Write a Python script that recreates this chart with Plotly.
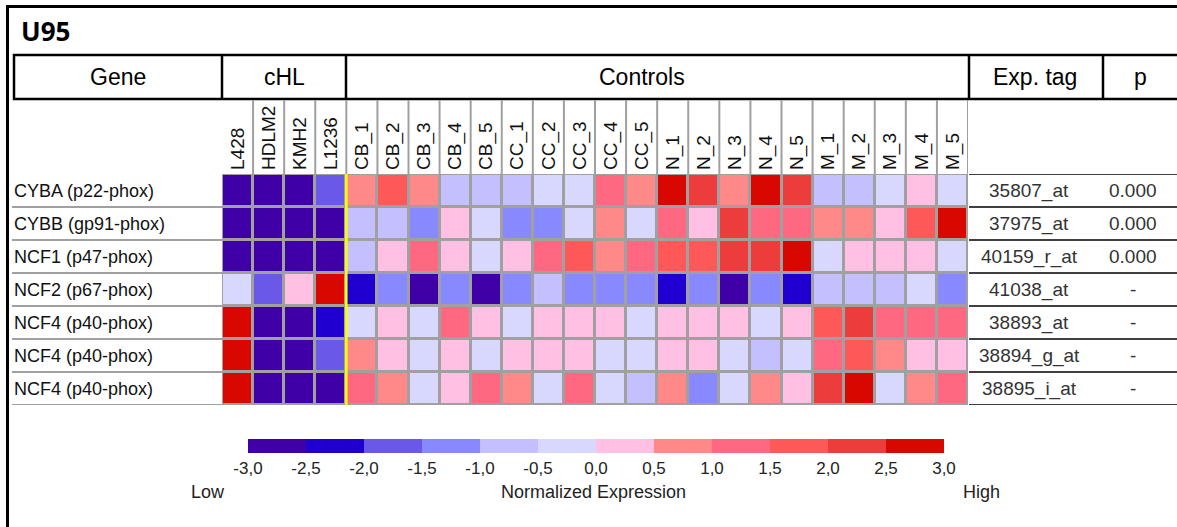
import plotly.graph_objects as go

# ---------------- data ----------------
samples = ["L428", "HDLM2", "KMH2", "L1236",
           "CB_1", "CB_2", "CB_3", "CB_4", "CB_5",
           "CC_1", "CC_2", "CC_3", "CC_4", "CC_5",
           "N_1", "N_2", "N_3", "N_4", "N_5",
           "M_1", "M_2", "M_3", "M_4", "M_5"]
genes = ["CYBA (p22-phox)", "CYBB (gp91-phox)", "NCF1 (p47-phox)", "NCF2 (p67-phox)",
         "NCF4 (p40-phox)", "NCF4 (p40-phox)", "NCF4 (p40-phox)"]
exp_tags = ["35807_at", "37975_at", "40159_r_at", "41038_at", "38893_at", "38894_g_at", "38895_i_at"]
p_values = ["0.000", "0.000", "0.000", "-", "-", "-", "-"]

cyba = [-2.8, -2.8, -2.8, -1.8, 0.8, 1.8, 0.8, -0.8, -0.8, -0.8, -0.3, -0.3, 1.3, 0.8, 2.8, 2.3, 0.8, 2.8, 2.3, -0.8, -0.8, -0.3, 0.3, -0.3]
cybb = [-2.8, -2.8, -2.8, -2.8, -0.8, -0.8, -1.3, 0.3, -0.3, -1.3, -1.3, -0.3, 0.8, -0.3, 1.3, 0.3, 2.3, 1.3, 1.3, 0.8, 0.8, 0.3, 1.8, 2.8]
ncf1 = [-2.8, -2.8, -2.8, -2.8, -0.8, 0.3, 1.3, 0.3, -0.3, 0.3, 1.3, 1.8, 0.8, 1.3, 1.8, 1.8, 2.3, 2.3, 2.8, -0.3, 0.3, 0.3, 0.3, -0.3]
ncf2 = [-0.3, -1.8, 0.3, 2.8, -2.3, -1.3, -2.8, -1.3, -2.8, -1.3, -0.8, -1.3, -1.3, -1.3, -2.3, -1.3, -2.8, -1.3, -2.3, -0.8, -0.8, -0.8, -0.3, -1.3]
ncf4_a = [2.8, -2.8, -2.8, -2.3, -0.3, 0.3, -0.3, 1.3, 0.3, -0.3, 0.3, 0.3, 0.3, -0.3, 0.3, 0.3, 0.3, -0.3, 0.3, 1.8, 2.3, 1.3, 1.3, 1.3]
ncf4_b = [2.8, -2.8, -2.8, -1.8, 0.8, 0.3, -0.3, 0.3, -0.3, 0.3, 0.3, 0.3, -0.3, -0.3, 0.3, 0.3, -0.3, -0.8, -0.3, 1.3, 1.8, 0.8, 0.3, 0.3]
ncf4_c = [2.8, -2.8, -2.8, -2.8, 1.3, 0.8, -0.3, 0.3, 1.3, 0.8, -0.3, 1.3, -0.3, -0.8, 0.8, -1.3, -0.3, 0.8, 0.3, 2.3, 2.8, -0.3, 0.8, 1.3]

scale_ticks = [-3.0, -2.5, -2.0, -1.5, -1.0, -0.5, 0.0, 0.5, 1.0, 1.5, 2.0, 2.5, 3.0]
scale_labels = ["-3,0", "-2,5", "-2,0", "-1,5", "-1,0", "-0,5", "0,0", "0,5", "1,0", "1,5", "2,0", "2,5", "3,0"]
bin_colors = ["#4000A8", "#2000D0", "#6A58E8", "#8888FF", "#C4C0FF", "#D8D8FF",
              "#FFC0E4", "#FF8888", "#FF6880", "#FF5858", "#EC3C3C", "#D80800"]

# ---------------- build ----------------
W, H = 1177, 527
def px(x):
    return x / W
def py(y):
    return 1 - y / H

z = [cyba, cybb, ncf1, ncf2, ncf4_a, ncf4_b, ncf4_c]
n = len(bin_colors)
colorscale = []
for i, c in enumerate(bin_colors):
    colorscale.append([i / n, c])
    colorscale.append([(i + 1) / n, c])

FONT = "Liberation Sans, Arial, sans-serif"

fig = go.Figure()
fig.add_trace(go.Heatmap(
    z=z, x=list(range(len(samples))), y=list(range(len(genes))),
    zmin=scale_ticks[0], zmax=scale_ticks[-1], colorscale=colorscale,
    xgap=3, ygap=3, hoverinfo="skip",
    colorbar=dict(
        orientation="h", x=px(596), xanchor="center", y=py(439), yanchor="top",
        len=696, lenmode="pixels", thickness=14, thicknessmode="pixels",
        outlinewidth=0, xpad=0, ypad=0,
        tickmode="array", tickvals=scale_ticks, ticktext=scale_labels,
        ticks="", tickfont=dict(family=FONT, size=17, color="#222"),
    ),
))

shapes = []
# outer frame
shapes.append(dict(type="line", xref="paper", yref="paper", x0=px(6), x1=1.02, y0=py(6.5), y1=py(6.5),
                   line=dict(color="black", width=3)))
shapes.append(dict(type="line", xref="paper", yref="paper", x0=px(7.5), x1=px(7.5), y0=py(5), y1=-0.02,
                   line=dict(color="black", width=3)))
# header box
shapes.append(dict(type="rect", xref="paper", yref="paper", x0=px(14), x1=1.02, y0=py(99), y1=py(55),
                   line=dict(color="black", width=2.5)))
for xb in [222, 346, 969, 1103]:
    shapes.append(dict(type="line", xref="paper", yref="paper", x0=px(xb), x1=px(xb), y0=py(99), y1=py(55),
                       line=dict(color="black", width=2.5)))
# grey separators in column label area
for k in range(1, len(samples) + 1):
    y_end = py(405) if k == len(samples) else py(174)
    shapes.append(dict(type="line", xref="x", yref="paper", x0=k - 0.5, x1=k - 0.5, y0=py(100), y1=y_end,
                       line=dict(color="#A0A0A0", width=2)))
# grey row separators in gene label area
for r in range(len(genes)):
    shapes.append(dict(type="line", xref="paper", yref="y", x0=px(12), x1=px(222), y0=r + 0.5, y1=r + 0.5,
                       line=dict(color="#A0A0A0", width=2)))
# black row lines in right table
for r in range(len(genes) + 1):
    shapes.append(dict(type="line", xref="paper", yref="y", x0=px(969), x1=1.0, y0=r - 0.5, y1=r - 0.5,
                       line=dict(color="black", width=1.5)))
# yellow divider between cHL and controls
shapes.append(dict(type="line", xref="x", yref="y", x0=3.5, x1=3.5, y0=-0.5, y1=len(genes) - 0.5,
                   line=dict(color="#FFFF00", width=2.5)))

ann = []
ann.append(dict(text="<b>U95</b>", x=px(19), y=py(31), xref="paper", yref="paper", xanchor="left",
                yanchor="middle", showarrow=False, font=dict(family="Open Sans, sans-serif", size=26, color="black")))
for label, xc in [("Gene", 118), ("cHL", 284), ("Controls", 642), ("Exp. tag", 1035), ("p", 1140)]:
    ann.append(dict(text=label, x=px(xc), y=py(77), xref="paper", yref="paper", xanchor="center",
                    yanchor="middle", showarrow=False, font=dict(family=FONT, size=23, color="black")))
for r, g in enumerate(genes):
    ann.append(dict(text=g, x=px(12), y=r, xref="paper", yref="y", xanchor="left", yanchor="middle",
                    showarrow=False, font=dict(family=FONT, size=18, color="#111")))
for r, t in enumerate(exp_tags):
    ann.append(dict(text=t, x=px(1029), y=r, xref="paper", yref="y", xanchor="center", yanchor="middle",
                    showarrow=False, font=dict(family=FONT, size=19, color="#333")))
for r, t in enumerate(p_values):
    ann.append(dict(text=t, x=px(1133), y=r, xref="paper", yref="y", xanchor="center", yanchor="middle",
                    showarrow=False, font=dict(family=FONT, size=19, color="#333")))
for label, xc in [("Low", 208), ("Normalized Expression", 593), ("High", 981)]:
    ann.append(dict(text=label, x=px(xc), y=py(492), xref="paper", yref="paper", xanchor="center",
                    yanchor="middle", showarrow=False, font=dict(family=FONT, size=18, color="#222")))

fig.update_layout(
    width=W, height=H, autosize=False,
    margin=dict(l=0, r=0, t=0, b=0),
    paper_bgcolor="white", plot_bgcolor="#A0A0A0",
    showlegend=False,
    xaxis=dict(domain=[px(222), px(968)], range=[-0.5, len(samples) - 0.5], side="top",
               tickmode="array", tickvals=list(range(len(samples))), ticktext=samples,
               tickangle=-90, ticks="", showgrid=False, zeroline=False, showline=False,
               ticklabelstandoff=3,
               tickfont=dict(family=FONT, size=19, color="#111"), fixedrange=True),
    yaxis=dict(domain=[py(405), py(174)], range=[len(genes) - 0.5, -0.5], showticklabels=False,
               ticks="", showgrid=False, zeroline=False, showline=False, fixedrange=True),
    shapes=shapes, annotations=ann,
)

fig.write_html("out.html", config={"displayModeBar": False},
               post_script="document.body.style.margin='0';document.body.style.overflow='hidden';")
